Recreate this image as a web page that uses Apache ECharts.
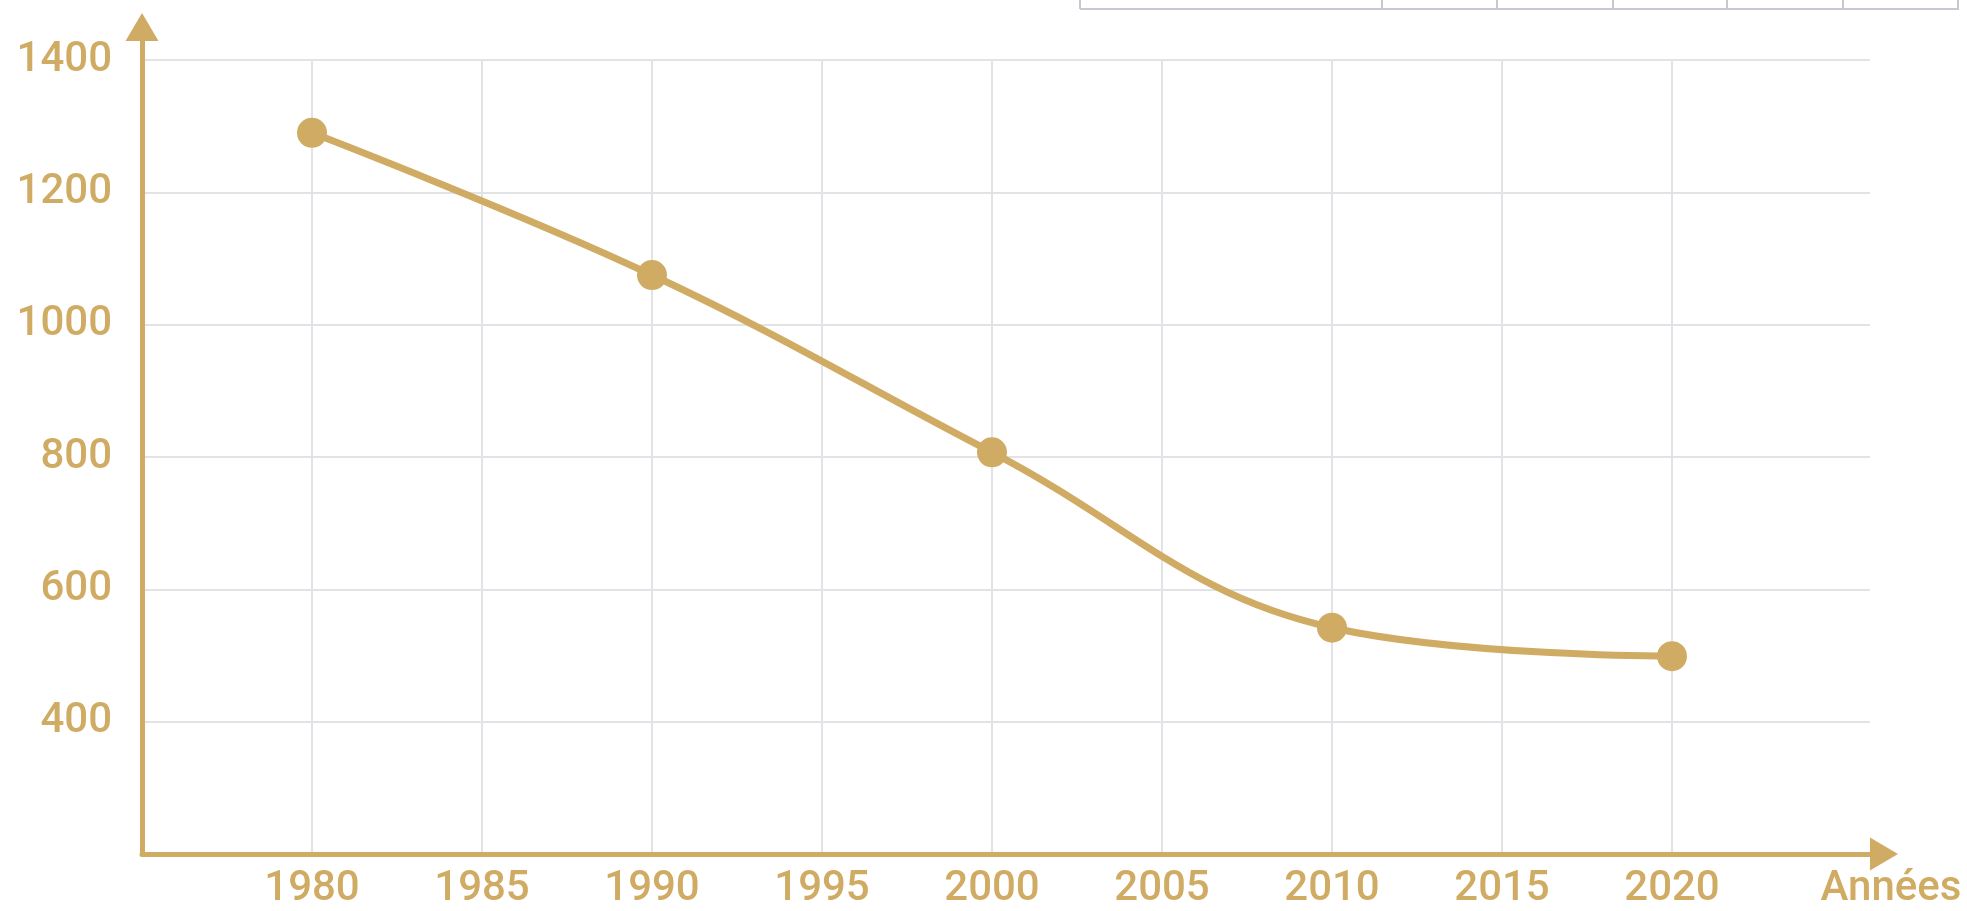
<!DOCTYPE html>
<html>

<head>
    <meta charset="utf-8">
    <title>Années</title>
    <script src="https://cdn.jsdelivr.net/npm/echarts@6/dist/echarts.min.js"></script>
    <style>
        html, body { margin: 0; padding: 0; background: #fff; }
    </style>
</head>

<body>
    <div id="main" style="width: 1967px;height:911px;"></div>
    <script type="text/javascript">
        // données
        var annees = [1980, 1990, 2000, 2010, 2020];
        var valeurs = [1290, 1075, 807, 542, 499];

        var gold = '#d0ab64';
        var grille = '#e1e3e6';

        var points = annees.map(function (a, i) { return [a, valeurs[i]]; });

        var myChart = echarts.init(document.getElementById('main'));
        var labelFont = { color: gold, fontSize: 42, fontWeight: 500, fontFamily: 'Roboto' };
        var brut = function (v) { return String(v); };

        var option = {
            backgroundColor: '#fff',
            animation: false,
            grid: [
                // axes + lignes horizontales
                { left: 142, top: 41, right: 97, bottom: 57 },
                // données + lignes verticales
                { left: 142, top: 60, right: 125, bottom: 57 }
            ],
            xAxis: [{
                gridIndex: 0,
                type: 'value',
                min: 1975,
                max: 2025.8,
                name: 'Années',
                nameLocation: 'end',
                nameGap: 21,
                nameTextStyle: Object.assign({ align: 'center', verticalAlign: 'top', padding: [14, 0, 0, 0] }, labelFont),
                axisLine: {
                    onZero: false,
                    symbol: ['none', 'triangle'],
                    symbolSize: [33, 28],
                    symbolOffset: [0, 14],
                    lineStyle: { color: gold, width: 5 }
                },
                axisTick: { show: false },
                axisLabel: { show: false },
                splitLine: { show: false }
            }, {
                gridIndex: 1,
                type: 'value',
                min: 1975,
                max: 2025,
                interval: 5,
                axisLine: { show: false },
                axisTick: { show: false },
                axisLabel: Object.assign({ showMinLabel: false, showMaxLabel: false, margin: 14, formatter: brut }, labelFont),
                splitLine: { show: true, showMinLine: false, showMaxLine: false, lineStyle: { color: grille, width: 2 } }
            }],
            yAxis: [{
                gridIndex: 0,
                type: 'value',
                min: 200,
                max: 1429,
                interval: 200,
                axisLine: {
                    show: true,
                    onZero: false,
                    symbol: ['none', 'triangle'],
                    symbolSize: [33, 28],
                    symbolOffset: [0, 14],
                    lineStyle: { color: gold, width: 5 }
                },
                axisTick: { show: false },
                axisLabel: Object.assign({ showMinLabel: false, showMaxLabel: false, margin: 30, formatter: brut }, labelFont),
                splitLine: { show: true, showMinLine: false, showMaxLine: false, lineStyle: { color: grille, width: 2 } }
            }, {
                gridIndex: 1,
                type: 'value',
                min: 200,
                max: 1400,
                interval: 200,
                show: false
            }],
            series: [{
                type: 'line',
                xAxisIndex: 1,
                yAxisIndex: 1,
                data: points,
                smooth: 0.4,
                symbol: 'circle',
                symbolSize: 30,
                itemStyle: { color: gold },
                lineStyle: { color: gold, width: 7 },
                z: 5
            }],
            // bas d'un tableau coupé en haut à droite
            graphic: [{
                type: 'group',
                silent: true,
                children: [
                    { type: 'line', shape: { x1: 1080, y1: 9, x2: 1959, y2: 9 }, style: { stroke: '#c6cad0', lineWidth: 2 } },
                    { type: 'line', shape: { x1: 1080, y1: 0, x2: 1080, y2: 9 }, style: { stroke: '#c6cad0', lineWidth: 2 } },
                    { type: 'line', shape: { x1: 1382, y1: 0, x2: 1382, y2: 9 }, style: { stroke: '#c6cad0', lineWidth: 2 } },
                    { type: 'line', shape: { x1: 1497, y1: 0, x2: 1497, y2: 9 }, style: { stroke: '#c6cad0', lineWidth: 2 } },
                    { type: 'line', shape: { x1: 1613, y1: 0, x2: 1613, y2: 9 }, style: { stroke: '#c6cad0', lineWidth: 2 } },
                    { type: 'line', shape: { x1: 1727, y1: 0, x2: 1727, y2: 9 }, style: { stroke: '#c6cad0', lineWidth: 2 } },
                    { type: 'line', shape: { x1: 1843, y1: 0, x2: 1843, y2: 9 }, style: { stroke: '#c6cad0', lineWidth: 2 } },
                    { type: 'line', shape: { x1: 1958, y1: 0, x2: 1958, y2: 9 }, style: { stroke: '#c6cad0', lineWidth: 2 } }
                ]
            }]
        };

        myChart.setOption(option);
    </script>
</body>

</html>
